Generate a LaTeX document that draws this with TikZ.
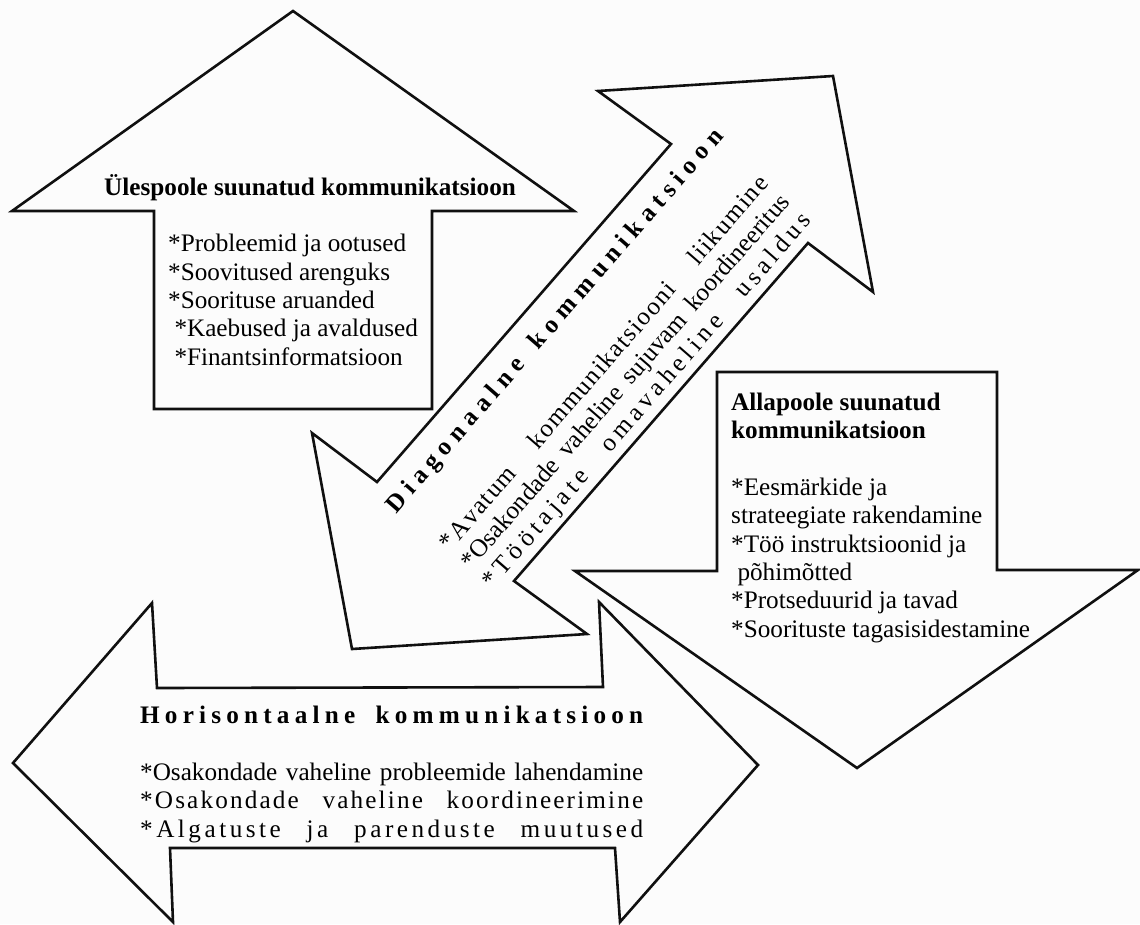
\documentclass[tikz,border=0pt]{standalone}
\usepackage{fontspec}
\setmainfont{Liberation Serif}
\usetikzlibrary{positioning}
\definecolor{cink}{HTML}{101010}
\definecolor{cpaper}{HTML}{FCFCFC}
\makeatletter
% letter-spaced words, the line is then stretched to its width
\newcommand{\trackline}[2]{\def\tl@k{#1}\tl@words#2 \@nil}
\def\tl@words#1 #2\@nil{\@tfor\tl@c:=#1\do{\tl@c\kern\tl@k\relax}\ifx\relax#2\relax\else\space\tl@words#2\@nil\fi}
\makeatother
\newcommand{\spreadline}[3]{\makebox[#1][s]{\trackline{#2}{#3}}}
\tikzset{
  every picture/.style={x=1pt, y=-1pt},
  flow/.style={draw=cink, fill=cpaper, line width=2.6pt, line join=miter},
  heading/.style={font=\fontsize{25.2}{28.3}\selectfont\bfseries, anchor=base west, inner sep=0pt},
  items/.style={font=\fontsize{25.2}{28.3}\selectfont, align=left, anchor=base west, inner sep=0pt},
}

\begin{document}
\begin{tikzpicture}
  \useasboundingbox (0,0) rectangle (1140,924);
  \fill[cpaper] (0,0) rectangle (1140,924);
  % upward
  \draw[flow] (293,11) -- (574,211) -- (432,211) -- (432,409) -- (154,409) -- (154,211) -- (12,211) -- cycle;
  % diagonal, both ways
  \draw[flow] (833,76) -- (873,292) -- (808,243) -- (514,581) -- (587,634) -- (352,649) -- (312,433) -- (377,482) -- (671,144) -- (598,91) -- cycle;
  % downward
  \draw[flow] (717,372) -- (997,372) -- (997,570) -- (1138,570) -- (857,768) -- (575,571) -- (717,571) -- cycle;
  % horizontal, both ways
  \draw[flow] (13,763) -- (152,603) -- (157,688) -- (603,687) -- (599,602) -- (758,765) -- (620,922) -- (615,848) -- (170,848) -- (173,922) -- cycle;

  % multi-line nodes sit on the baseline of their last line
  \node[heading] (uptitle) at (104,195) {Ülespoole suunatud kommunikatsioon};
  \node[items] (uplist) at (168,365) {*Probleemid ja ootused\\*Soovitused arenguks\\*Soorituse aruanded\\\hspace*{0.25em}*Kaebused ja avaldused\\\hspace*{0.25em}*Finantsinformatsioon};

  \node[heading, rotate=49] (diagtitle) at (396.2,514.6) {\spreadline{506.3pt}{6.3pt}{Diagonaalne kommunikatsioon}};
  \node[items, rotate=49] (diaglist) at (492.5,589.2) {\spreadline{488.5pt}{1.5pt}{*Avatum kommunikatsiooni liikumine}\\\spreadline{487pt}{0pt}{*Osakondade vaheline sujuvam koordineeritus}\\\spreadline{491.5pt}{4.5pt}{*Töötajate omavaheline usaldus}};

  \node[items] (downlist) at (731,637) {\textbf{Allapoole suunatud}\\\textbf{kommunikatsioon}\\[28.3pt]*Eesmärkide ja\\strateegiate rakendamine\\*Töö instruktsioonid ja\\\hspace*{0.25em}põhimõtted\\*Protseduurid ja tavad\\*Soorituste tagasisidestamine};

  \node[heading] (horiztitle) at (140,723) {\spreadline{508.2pt}{5.2pt}{Horisontaalne kommunikatsioon}};
  \node[items] (horizlist) at (140,837) {\spreadline{503pt}{0pt}{*Osakondade vaheline probleemide lahendamine}\\\spreadline{505.2pt}{2.15pt}{*Osakondade vaheline koordineerimine}\\\spreadline{506.5pt}{3.5pt}{*Algatuste ja parenduste muutused}};
\end{tikzpicture}
\end{document}
